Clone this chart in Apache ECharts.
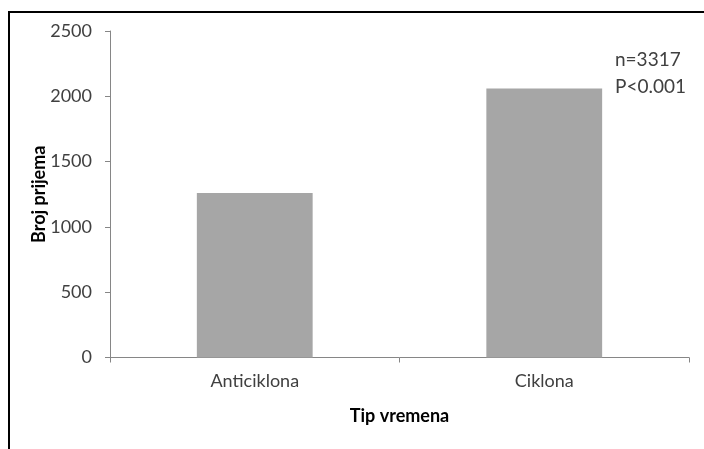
<!DOCTYPE html>
<html>
<head>
<meta charset="utf-8">
<style>
html, body { margin: 0; padding: 0; background: #fff; }
#chart { width: 704px; height: 449px; }
</style>
<script src="https://cdn.jsdelivr.net/npm/echarts@6/dist/echarts.min.js"></script>
</head>
<body>
<div id="chart"></div>
<script>
// tip vremena -> broj prijema
const categories = ['Anticiklona', 'Ciklona']
const admissions = [1260, 2060]
const yTicks = { min: 0, max: 2500, interval: 500 }
const noteLines = ['n=3317', 'P<0.001']

const font = 'Lato, "Open Sans", sans-serif'
const myChart = echarts.init(document.getElementById('chart'))
myChart.setOption({
  animation: false,
  grid: { left: 110, right: 15, top: 31, bottom: 91.5 },
  graphic: [
    { type: 'line', shape: { x1: 8, y1: 12, x2: 704, y2: 12 }, style: { stroke: '#000', lineWidth: 2 } },
    { type: 'line', shape: { x1: 9, y1: 11, x2: 9, y2: 449 }, style: { stroke: '#000', lineWidth: 2 } },
    {
      type: 'text', left: 615, top: 46,
      style: { text: noteLines.join('\n'), font: '19px ' + font, fill: '#404040', lineHeight: 27 }
    }
  ],
  xAxis: {
    type: 'category',
    data: categories,
    name: 'Tip vremena',
    nameLocation: 'middle',
    nameGap: 50,
    nameTextStyle: { fontFamily: font, fontSize: 18, fontWeight: 'bold', color: '#000' },
    axisLine: { lineStyle: { color: '#868686', width: 1 } },
    axisTick: { show: true, length: 5, lineStyle: { color: '#868686' } },
    axisLabel: { fontFamily: font, fontSize: 18, color: '#404040', margin: 15 }
  },
  yAxis: {
    type: 'value',
    min: yTicks.min,
    max: yTicks.max,
    interval: yTicks.interval,
    name: 'Broj prijema',
    nameLocation: 'middle',
    nameGap: 62,
    nameRotate: 90,
    nameMoveOverlap: false,
    nameTextStyle: { fontFamily: font, fontSize: 18, fontWeight: 'bold', color: '#000' },
    axisLine: { show: true, lineStyle: { color: '#868686', width: 1 } },
    axisTick: { show: true, length: 5, lineStyle: { color: '#868686' } },
    axisLabel: { fontFamily: font, fontSize: 18, color: '#404040', margin: 18, formatter: v => String(v) },
    splitLine: { show: false }
  },
  series: [
    {
      type: 'bar',
      data: admissions,
      barWidth: '40%',
      itemStyle: { color: '#a6a6a6' }
    }
  ]
})
</script>
</body>
</html>
